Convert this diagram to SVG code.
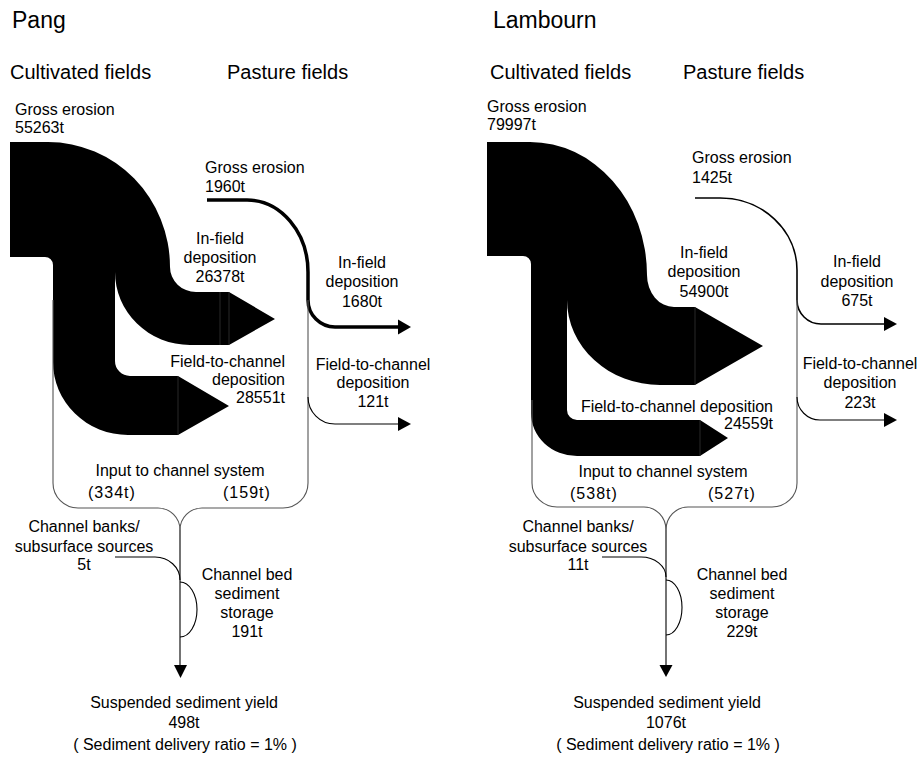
<svg xmlns="http://www.w3.org/2000/svg" width="919" height="759" viewBox="0 0 919 759">
<style>
text { font-family: "Liberation Sans", Arial, sans-serif; font-size: 16px; fill: #000; }
.h1 { font-size: 23px; }
.h2 { font-size: 20px; }
.m { text-anchor: middle; }
.e { text-anchor: end; }
.flow { fill: #000; stroke: none; }
.sep { stroke: #3a3a3a; stroke-width: 0.7; fill: none; }
.thin { fill: none; stroke: #000; stroke-width: 1.1; }
.gray { fill: none; stroke: #555; stroke-width: 1.1; }
.thick { fill: none; stroke: #000; stroke-width: 3.5; }
.mid { fill: none; stroke: #000; stroke-width: 1.6; }
.head { fill: #000; stroke: none; }
</style>
<rect width="919" height="759" fill="#fff"/>

<!-- ===== PANG ===== -->
<g id="pang-headings">
  <text class="h1" x="12" y="28">Pang</text>
  <text class="h2" x="10" y="79">Cultivated fields</text>
  <text class="h2" x="227" y="79">Pasture fields</text>
</g>

<g id="pang-cultivated-flow">
  <path class="flow" d="M10,142 L48,142 A122,125 0 0 1 170,267 A26,25 0 0 0 196,292 L229,292 L275,319 L229,345 L190,345 A75,73 0 0 1 115,272 L115,361 A15,15 0 0 0 130,376 L178,376 L229,406 L178,435 L128,435 A75,73 0 0 1 53,362 L53,265 A8,8 0 0 0 45,257 L10,257 Z"/>
  <line class="sep" x1="220" y1="292" x2="220" y2="345"/>
  <line class="sep" x1="229" y1="292" x2="229" y2="345"/>
  <line class="sep" x1="178" y1="376" x2="178" y2="435"/>
</g>

<g id="pang-gross-cult">
  <text x="15" y="115">Gross erosion</text>
  <text x="15" y="133">55263t</text>
</g>
<g id="pang-infield-cult">
  <text class="m" x="220" y="244">In-field</text>
  <text class="m" x="220" y="263">deposition</text>
  <text class="m" x="220" y="282">26378t</text>
</g>
<g id="pang-f2c-cult">
  <text class="e" x="285" y="367">Field-to-channel</text>
  <text class="e" x="285" y="385">deposition</text>
  <text class="e" x="285" y="403">28551t</text>
</g>
<g id="pang-gross-past">
  <text x="205" y="173">Gross erosion</text>
  <text x="205" y="192">1960t</text>
</g>
<g id="pang-infield-past">
  <text class="m" x="362" y="268">In-field</text>
  <text class="m" x="362" y="287">deposition</text>
  <text class="m" x="362" y="307">1680t</text>
</g>
<g id="pang-f2c-past">
  <text class="m" x="373" y="370">Field-to-channel</text>
  <text class="m" x="373" y="388">deposition</text>
  <text class="m" x="373" y="407">121t</text>
</g>
<g id="pang-input">
  <text class="m" x="180" y="476">Input to channel system</text>
  <text x="88" y="498" letter-spacing="1">(334t)</text>
  <text x="223" y="498" letter-spacing="1">(159t)</text>
</g>
<g id="pang-banks">
  <text class="m" x="84" y="532">Channel banks/</text>
  <text class="m" x="84" y="552">subsurface sources</text>
  <text class="m" x="84" y="570">5t</text>
</g>
<g id="pang-storage">
  <text class="m" x="247" y="580">Channel bed</text>
  <text class="m" x="247" y="599">sediment</text>
  <text class="m" x="247" y="618">storage</text>
  <text class="m" x="247" y="637">191t</text>
</g>
<g id="pang-yield">
  <text class="m" x="184" y="708">Suspended sediment yield</text>
  <text class="m" x="184" y="728">498t</text>
  <text class="m" x="185" y="750">( Sediment delivery ratio = 1% )</text>
</g>

<g id="pang-connectors">
  <path class="thick" d="M207,200 L247,200 A61,72 0 0 1 308,272 L308,300 A27,27 0 0 0 335,327 L399,327"/>
  <polygon class="head" points="398,319.5 398,334.5 411,327"/>
  <path class="gray" d="M308,300 L308,483 A25,25 0 0 1 283,508 L202,508 A22,22 0 0 0 180,530"/>
  <path class="thin" d="M308,397 A27,27 0 0 0 335,424 L399,424"/>
  <polygon class="head" points="398,417 398,431 411,424"/>
  <path class="gray" d="M53,300 L53,483 A25,25 0 0 0 78,508 L158,508 A22,22 0 0 1 180,530"/>
  <path class="thin" d="M180,530 L180,667"/>
  <polygon class="head" points="174,665 187,665 180.5,678"/>
  <path class="thin" d="M115,557 L155,557 A25,23 0 0 1 180,580"/>
  <path class="thin" d="M180,582 A17,27.5 0 0 1 180,637"/>
</g>

<!-- ===== LAMBOURN ===== -->
<g id="lam-headings">
  <text class="h1" x="493" y="28">Lambourn</text>
  <text class="h2" x="490" y="79">Cultivated fields</text>
  <text class="h2" x="683" y="79">Pasture fields</text>
</g>

<g id="lam-cultivated-flow">
  <path class="flow" d="M487,142 L530,142 A117,133 0 0 1 647,275 A27,32 0 0 0 674,307 L695,307 L763,346 L695,385 L660,385 A93,85 0 0 1 567,300 L567,273 L567,410 A10,10 0 0 0 577,420 L700,420 L728,438 L700,456 L577,456 A46,43 0 0 1 531,413 L531,264 A8,8 0 0 0 523,256 L487,256 Z"/>
  <line class="sep" x1="695" y1="307" x2="695" y2="385"/>
  <line class="sep" x1="700" y1="420" x2="700" y2="456"/>
</g>

<g id="lam-gross-cult">
  <text x="487" y="112">Gross erosion</text>
  <text x="487" y="130">79997t</text>
</g>
<g id="lam-infield-cult">
  <text class="m" x="704" y="258">In-field</text>
  <text class="m" x="704" y="277">deposition</text>
  <text class="m" x="704" y="297">54900t</text>
</g>
<g id="lam-f2c-cult">
  <text class="e" x="773" y="412">Field-to-channel deposition</text>
  <text class="e" x="773" y="429">24559t</text>
</g>
<g id="lam-gross-past">
  <text x="692" y="163">Gross erosion</text>
  <text x="692" y="183">1425t</text>
</g>
<g id="lam-infield-past">
  <text class="m" x="857" y="267">In-field</text>
  <text class="m" x="857" y="287">deposition</text>
  <text class="m" x="857" y="306">675t</text>
</g>
<g id="lam-f2c-past">
  <text class="m" x="860" y="369">Field-to-channel</text>
  <text class="m" x="860" y="388">deposition</text>
  <text class="m" x="860" y="408">223t</text>
</g>
<g id="lam-input">
  <text class="m" x="663" y="477">Input to channel system</text>
  <text x="570" y="499" letter-spacing="1">(538t)</text>
  <text x="708" y="499" letter-spacing="1">(527t)</text>
</g>
<g id="lam-banks">
  <text class="m" x="578" y="532">Channel banks/</text>
  <text class="m" x="578" y="552">subsurface sources</text>
  <text class="m" x="578" y="570">11t</text>
</g>
<g id="lam-storage">
  <text class="m" x="742" y="580">Channel bed</text>
  <text class="m" x="742" y="599">sediment</text>
  <text class="m" x="742" y="618">storage</text>
  <text class="m" x="742" y="637">229t</text>
</g>
<g id="lam-yield">
  <text class="m" x="667" y="708">Suspended sediment yield</text>
  <text class="m" x="666" y="728">1076t</text>
  <text class="m" x="668" y="750">( Sediment delivery ratio = 1% )</text>
</g>

<g id="lam-connectors">
  <path class="mid" d="M695,198 L720,198 A77,72 0 0 1 797,270 L797,300 A24,24 0 0 0 821,324 L885,324"/>
  <polygon class="head" points="884,317 884,331 897,324"/>
  <path class="gray" d="M797,300 L797,483 A25,24 0 0 1 772,507 L688,507 A22,23 0 0 0 666,530"/>
  <path class="thin" d="M797,397 A23,23 0 0 0 820,420 L885,420"/>
  <polygon class="head" points="884,413 884,427 897,420"/>
  <path class="gray" d="M532,400 L532,483 A25,24 0 0 0 557,507 L644,507 A22,23 0 0 1 666,530"/>
  <path class="thin" d="M666,530 L666,666"/>
  <polygon class="head" points="659.5,665 672.5,665 666,677"/>
  <path class="thin" d="M602,557 L641,557 A25,20 0 0 1 666,577"/>
  <path class="thin" d="M666,580 A16,27.5 0 0 1 666,635"/>
</g>
</svg>
